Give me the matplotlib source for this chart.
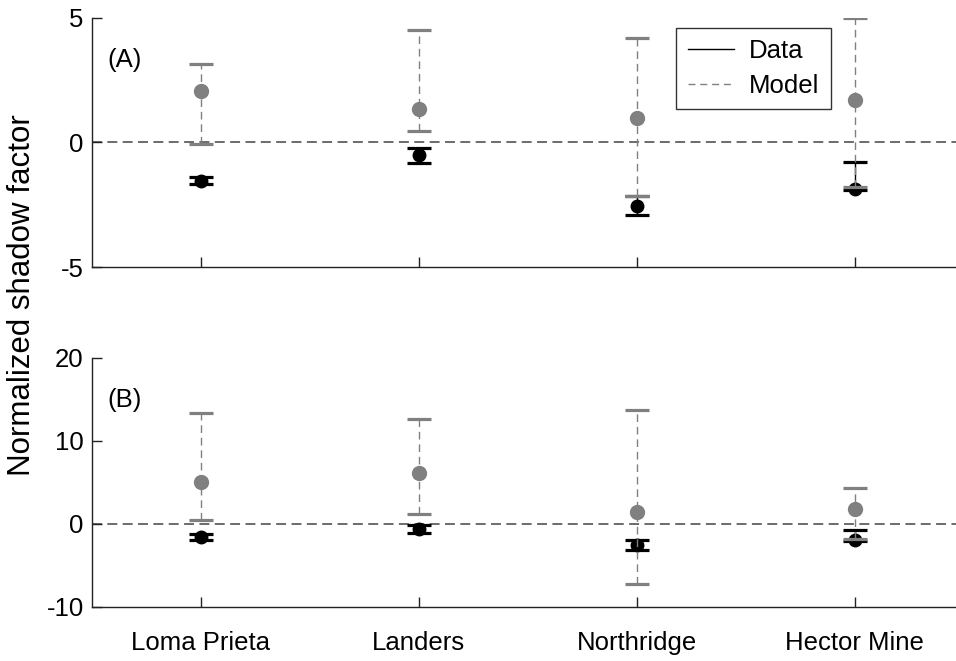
import numpy as np
import matplotlib
matplotlib.use("Agg")
import matplotlib.pyplot as plt
from matplotlib.lines import Line2D

## data ##
quakes = ["Loma Prieta", "Landers", "Northridge", "Hector Mine"]

# panel A: observed (data) and predicted (model) values, with lower/upper error limits
dataA = [-1.55, -0.52, -2.56, -1.85]
dataA_lo = [-1.65, -0.84, -2.93, -1.90]
dataA_hi = [-1.40, -0.24, -2.15, -0.79]
modelA = [2.06, 1.35, 0.99, 1.70]
modelA_lo = [-0.05, 0.45, -2.13, -1.79]
modelA_hi = [3.13, 4.50, 4.19, 5.00]

# panel B
dataB = [-1.57, -0.60, -2.50, -1.93]
dataB_lo = [-1.93, -1.08, -3.13, -2.05]
dataB_hi = [-1.20, -0.12, -1.93, -0.72]
modelB = [5.02, 6.20, 1.49, 1.77]
modelB_lo = [0.48, 1.17, -7.23, -1.80]
modelB_hi = [13.40, 12.60, 13.70, 4.37]

ylimA = (-5, 5)
yticksA = [-5, 0, 5]
ylimB = (-10, 20)
yticksB = [-10, 0, 10, 20]

## style ##
plt.rcParams['font.family'] = ['Liberation Sans', 'DejaVu Sans']
plt.rcParams['axes.unicode_minus'] = False
fs = 18.5
grey = '#808080'

fig = plt.figure(figsize=(9.56, 6.61), dpi=100)
axA = fig.add_axes([0.0962, 0.596, 0.912, 0.377])
axB = fig.add_axes([0.0962, 0.0817, 0.912, 0.3767])

x = np.arange(1, len(quakes) + 1)


def draw_panel(ax, d, dlo, dhi, m, mlo, mhi, ylim, yticks, tag):
    ax.axhline(0, color='#606060', lw=1.3, ls=(0, (5.5, 3)), zorder=1)

    d = np.array(d)
    m = np.array(m)
    derr = [d - np.array(dlo), np.array(dhi) - d]
    merr = [m - np.array(mlo), np.array(mhi) - m]

    ax.errorbar(x, d, yerr=derr, fmt='o', color='black', ms=9, lw=1,
                capsize=8.3, capthick=2.3, zorder=2)
    eb = ax.errorbar(x, m, yerr=merr, fmt='o', color=grey, ms=10, lw=1,
                     capsize=8.3, capthick=2.3, zorder=3)
    eb[2][0].set_linestyle((0, (5.5, 3.5)))

    ax.set_xlim(0.5, 4.5)
    ax.set_ylim(*ylim)
    ax.set_yticks(yticks)
    ax.set_xticks(x)
    for s in ['top', 'right']:
        ax.spines[s].set_visible(False)
    for s in ['left', 'bottom']:
        ax.spines[s].set_linewidth(1.0)
        ax.spines[s].set_color('#222222')
    ax.tick_params(direction='in', length=7, width=1, labelsize=fs,
                   color='#222222', pad=6)
    ax.text(0.018, 0.83, tag, transform=ax.transAxes, fontsize=fs,
            va='center', ha='left')


draw_panel(axA, dataA, dataA_lo, dataA_hi, modelA, modelA_lo, modelA_hi,
           ylimA, yticksA, "(A)")
draw_panel(axB, dataB, dataB_lo, dataB_hi, modelB, modelB_lo, modelB_hi,
           ylimB, yticksB, "(B)")

axA.set_xticklabels([])
axB.set_xticklabels(quakes)
axB.tick_params(axis='x', pad=17)

fig.text(0.023, 0.554, "Normalized shadow factor", rotation=90,
         fontsize=22.5, va='center', ha='center')

handles = [Line2D([], [], color='black', lw=1),
           Line2D([], [], color=grey, lw=1, ls=(0, (5, 3.5)))]
leg = axA.legend(handles, ["Data", "Model"], loc='upper left',
                 bbox_to_anchor=(0.67, 0.96), borderaxespad=0, fontsize=fs,
                 frameon=True, fancybox=False, handlelength=1.8,
                 borderpad=0.45, labelspacing=0.4, handletextpad=0.6)
leg.get_frame().set_edgecolor('black')
leg.get_frame().set_linewidth(1.0)

fig.savefig("out.png", dpi=100)
